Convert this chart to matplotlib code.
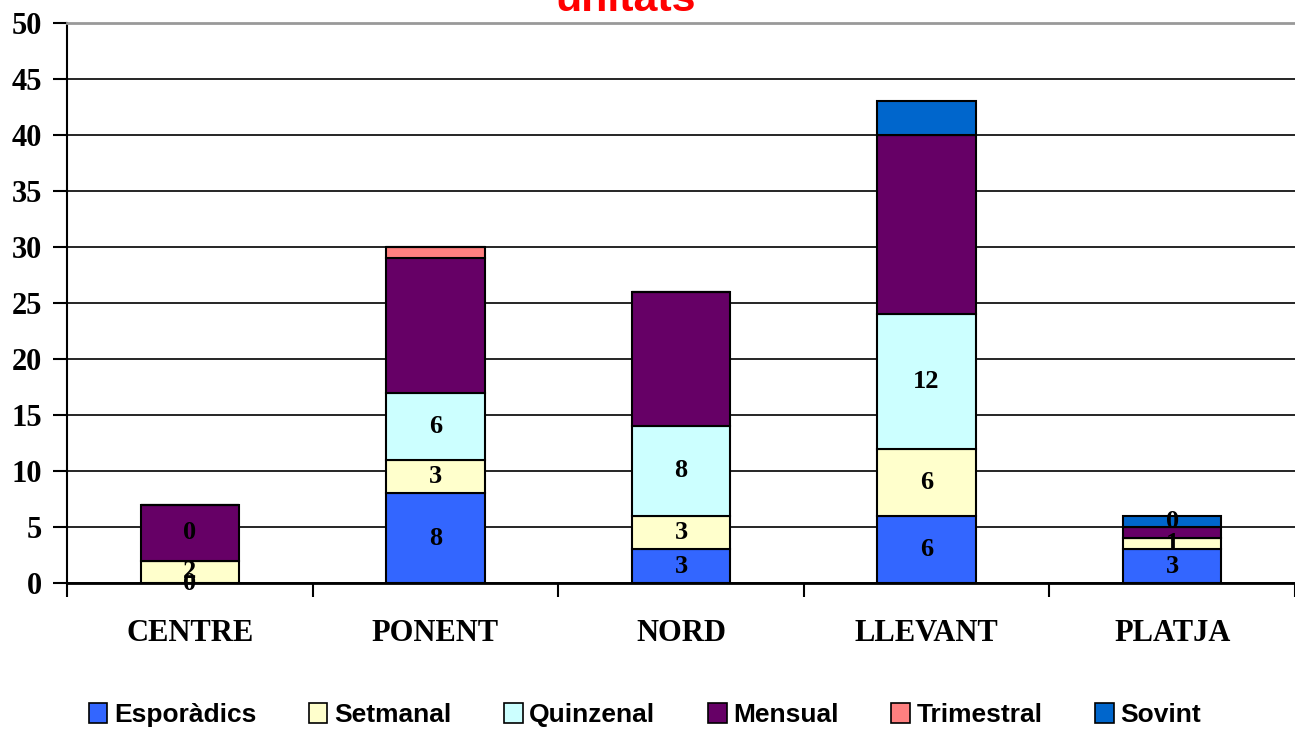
import matplotlib
matplotlib.use("Agg")
import matplotlib.pyplot as plt
import numpy as np

categories = ["CENTRE", "PONENT", "NORD", "LLEVANT", "PLATJA"]
series_names = ["Esporàdics", "Setmanal", "Quinzenal", "Mensual", "Trimestral", "Sovint"]
esporadics = [0, 8, 3, 6, 3]
setmanal = [2, 3, 3, 6, 1]
quinzenal = [0, 6, 8, 12, 0]
mensual = [5, 12, 12, 16, 1]
trimestral = [0, 1, 0, 0, 0]
sovint = [0, 0, 0, 3, 1]
colors = ["#3366FF", "#FFFFCC", "#CCFFFF", "#660066", "#FF8080", "#0066CC"]

serif = ["Liberation Serif", "DejaVu Serif"]
sans = ["Liberation Sans", "DejaVu Sans"]

fig = plt.figure(figsize=(12.95, 7.31), dpi=100)
ax = fig.add_axes([67 / 1295, 1 - 583 / 731, 1 - 67 / 1295, (583 - 23) / 731])

data = [esporadics, setmanal, quinzenal, mensual, trimestral, sovint]
x = np.arange(len(categories))
bottom = np.zeros(len(categories))
bottoms = []
for name, vals, c in zip(series_names, data, colors):
    vals = np.array(vals, dtype=float)
    bottoms.append(bottom.copy())
    ax.bar(x, vals, 0.4, bottom=bottom, color=c, edgecolor="black",
           linewidth=1.5, label=name, zorder=3)
    bottom = bottom + vals

# data labels for the first three series (as in the original Excel chart)
for s in range(3):
    for i in range(len(categories)):
        v = data[s][i]
        y = bottoms[s][i] + v / 2
        if s == 2 and v == 0:
            # zero label drifts to the top segment
            k = max(j for j in range(6) if data[j][i] > 0)
            y = bottoms[k][i] + data[k][i] / 2
        ax.text(x[i], y, str(v), ha="center", va="center", fontsize=19,
                fontweight="bold", family=serif, zorder=5)

ax.set_xlim(-0.5, len(categories) - 0.5)
ax.set_ylim(0, 50)
ax.set_yticks(np.arange(0, 51, 5))
ax.yaxis.grid(True, color="black", linewidth=1.2, zorder=0)
ax.set_axisbelow(True)

ax.set_xticks(np.arange(-0.5, len(categories), 1))
ax.set_xticklabels([])
ax.set_xticks(x, minor=True)
ax.set_xticklabels(categories, minor=True)
ax.tick_params(axis="x", which="major", length=10, width=1.5, direction="out")
ax.tick_params(axis="x", which="minor", length=0, pad=26)
ax.tick_params(axis="y", length=10, width=1.5, direction="out", pad=8)
for lab in ax.get_xticklabels(minor=True):
    lab.set_fontsize(22)
    lab.set_fontweight("bold")
    lab.set_family(serif)
for lab in ax.get_yticklabels():
    lab.set_fontsize(22)
    lab.set_fontweight("bold")
    lab.set_family(serif)

ax.spines["right"].set_visible(False)
ax.spines["top"].set_color("#999999")
ax.spines["top"].set_linewidth(2)
ax.spines["left"].set_linewidth(1.5)
ax.spines["bottom"].set_linewidth(2)

fig.text(0.483, 1 - 11 / 731, "unitats", color="red", fontsize=31,
         fontweight="bold", family=sans, ha="center", va="baseline")

leg = fig.legend(loc="center", bbox_to_anchor=(0.498, 0.022), ncol=6, frameon=False,
                 prop={"family": sans, "weight": "bold", "size": 19},
                 handlelength=0.7, handleheight=0.8, handletextpad=0.25,
                 columnspacing=2.0)
for h in leg.legend_handles:
    h.set_linewidth(1.2)

plt.savefig("out.png", dpi=100)
